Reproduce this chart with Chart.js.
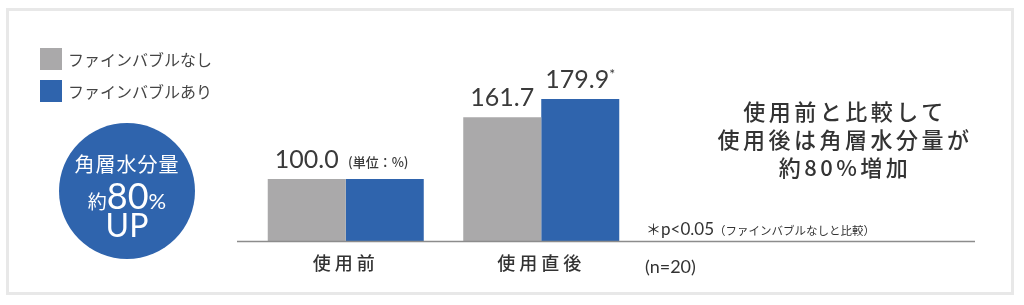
<!DOCTYPE html>
<html lang="ja">
<head>
<meta charset="utf-8">
<script src="https://cdn.jsdelivr.net/npm/chart.js@4"></script>
<style>
  html, body { margin: 0; padding: 0; background: #fff; }
  body { width: 1024px; height: 305px; position: relative; overflow: hidden;
         font-family: "Noto Sans CJK JP", "Noto Sans", sans-serif; color: #3a3a3a; }
  #frame { position: absolute; left: 6px; top: 8px; width: 1008px; height: 287px;
           border: 3px solid #e8e8e8; box-sizing: border-box; }
  #chart { position: absolute; left: 0; top: 0; }
  #legend { position: absolute; left: 40px; top: 43px; }
  .legend-row { display: flex; align-items: center; height: 32px; font-size: 16px; color: #444; }
  .legend-box { width: 22px; height: 22px; margin-right: 6px; }
  #badge { position: absolute; left: 59px; top: 123px; width: 136px; height: 136px;
           border-radius: 50%; background: #2f64ad; color: #fff; text-align: center; }
  #badge .l1 { position: absolute; left: 0; right: 0; top: 26px; font-size: 20px; letter-spacing: 1px; }
  #badge .l2 { position: absolute; left: 0; right: 0; top: 50px; font-size: 19px; }
  #badge .l2 .big { font-family: Lato, sans-serif; font-weight: 400; font-size: 36px; }
  #badge .l2 .pct { font-family: Lato, sans-serif; font-weight: 400; font-size: 22px; }
  #badge .l3 { position: absolute; left: 0; right: 0; top: 82px; font-family: Lato, sans-serif;
               font-weight: 400; font-size: 32px; }
  #summary { position: absolute; left: 700px; width: 290px; top: 96px; text-align: center;
             font-size: 22px; line-height: 28px; letter-spacing: 3.5px; color: #333; font-weight: 500; }
  #note { position: absolute; left: 646px; top: 216px; white-space: nowrap; color: #333; }
  #note .a { font-size: 15px; }
  #note .p { font-family: Lato, sans-serif; font-size: 17px; }
  #note .s { font-size: 11.5px; }
  #count { position: absolute; left: 645px; top: 255px; font-family: Lato, sans-serif;
           font-size: 18px; color: #333; }
</style>
</head>
<body>
<div id="frame"></div>
<canvas id="chart" width="1024" height="305"></canvas>
<div id="legend"></div>
<div id="badge">
  <div class="l1">角層水分量</div>
  <div class="l2">約<span class="big">80</span><span class="pct">%</span></div>
  <div class="l3">UP</div>
</div>
<div id="summary">使用前と比較して<br>使用後は角層水分量が<br>約80%増加</div>
<div id="note"><span class="a">＊</span><span class="p">p&lt;0.05</span><span class="s">（ファインバブルなしと比較）</span></div>
<div id="count">(n=20)</div>
<script>
const categories = ['使用前', '使用直後'];
const seriesNames = ['ファインバブルなし', 'ファインバブルあり'];
const withoutValues = [100.0, 161.7];
const withValues = [100.0, 179.9];
const withoutLabelShown = [true, true];
const withLabelShown = [false, true];
const withMarks = ['', '*'];
const unitNote = '(単位：%)';
const seriesColors = ['#aaa9aa', '#2f64ad'];

const legend = document.getElementById('legend');
seriesNames.forEach((name, i) => {
  legend.innerHTML += `<div class="legend-row"><span class="legend-box" style="background:${seriesColors[i]}"></span>${name}</div>`;
});

const textColor = '#3a3a3a';

const spacingPlugin = {
  id: 'tickSpacing',
  beforeDraw(chart) { chart.ctx.letterSpacing = '4px'; },
  beforeDatasetsDraw(chart) { chart.ctx.letterSpacing = '0px'; }
};

const baselinePlugin = {
  id: 'baseline',
  afterDatasetsDraw(chart) {
    const ctx = chart.ctx;
    const y = chart.chartArea.bottom + 0.5;
    ctx.save();
    ctx.strokeStyle = '#8c8c8c';
    ctx.lineWidth = 1.5;
    ctx.beginPath();
    ctx.moveTo(237, y);
    ctx.lineTo(975, y);
    ctx.stroke();
    ctx.restore();
  }
};

const valueLabelPlugin = {
  id: 'valueLabels',
  afterDatasetsDraw(chart) {
    const ctx = chart.ctx;
    ctx.save();
    ctx.fillStyle = textColor;
    ctx.textBaseline = 'alphabetic';
    const shown = [withoutLabelShown, withLabelShown];
    chart.data.datasets.forEach((ds, di) => {
      const meta = chart.getDatasetMeta(di);
      meta.data.forEach((bar, i) => {
        if (!shown[di][i]) return;
        const txt = ds.data[i].toFixed(1);
        const mark = di === 1 ? withMarks[i] : '';
        ctx.font = '400 25px Lato, sans-serif';
        const w = ctx.measureText(txt).width;
        ctx.font = '400 14px Lato, sans-serif';
        const mw = mark ? ctx.measureText(mark).width : 0;
        const x0 = bar.x - (w + mw) / 2;
        const y = bar.y - 11;
        ctx.font = '400 25px Lato, sans-serif';
        ctx.textAlign = 'left';
        ctx.fillText(txt, x0, y);
        if (mark) {
          ctx.font = '400 14px Lato, sans-serif';
          ctx.fillText(mark, x0 + w, y - 9);
        }
        if (di === 0 && i === 0) {
          ctx.font = '500 13px "Noto Sans CJK JP", sans-serif';
          ctx.fillText(unitNote, 348, y - 1);
        }
      });
    });
    ctx.restore();
  }
};

new Chart(document.getElementById('chart'), {
  type: 'bar',
  data: {
    labels: categories,
    datasets: [
      { label: seriesNames[0], data: withoutValues, backgroundColor: seriesColors[0] },
      { label: seriesNames[1], data: withValues, backgroundColor: seriesColors[1] }
    ]
  },
  options: {
    responsive: false,
    devicePixelRatio: 1,
    animation: false,
    layout: { padding: { left: 248, right: 385, top: 41, bottom: 0 } },
    datasets: { bar: { categoryPercentage: 0.798, barPercentage: 1.0 } },
    plugins: { legend: { display: false }, tooltip: { enabled: false } },
    scales: {
      x: {
        grid: { display: false, drawTicks: false },
        border: { display: false },
        ticks: {
          padding: 11,
          color: '#333',
          font: { family: '"Noto Sans CJK JP", sans-serif', size: 18, weight: '500' }
        },
        afterFit(scale) { scale.height = 64; }
      },
      y: {
        display: false,
        min: 38,
        max: 238
      }
    }
  },
  plugins: [spacingPlugin, baselinePlugin, valueLabelPlugin]
});
</script>
</body>
</html>
